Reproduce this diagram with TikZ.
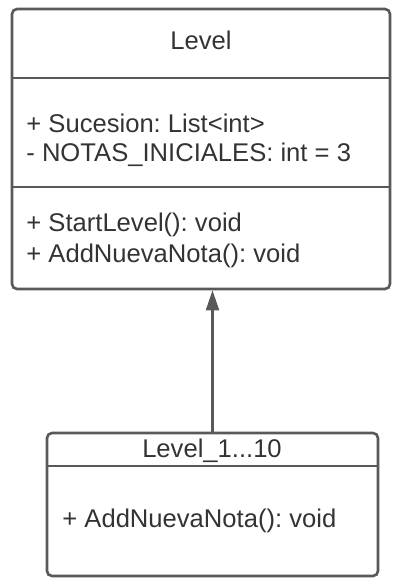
\documentclass[tikz,border=0pt]{standalone}
\usepackage{fontspec}
\setmainfont{Liberation Sans}
\usepackage{tikz}
\usetikzlibrary{arrows.meta,positioning}
\frenchspacing
\definecolor{umline}{RGB}{89,89,89}
\definecolor{umtext}{RGB}{51,51,51}
\tikzset{
  umbox/.style={draw=umline, line width=1.3pt, rounded corners=2.5pt,
    inner sep=0pt},
  umrule/.style={draw=umline, line width=1.3pt},
  umtitle/.style={font=\fontsize{12.8}{15}\selectfont, text=umtext,
    inner sep=0pt, anchor=base},
  umitem/.style={umtitle, anchor=base west},
  umarrow/.style={-{Triangle[length=10pt,width=6.5pt]}, line width=1.1pt,
    draw=umline}
}

\begin{document}
\begin{tikzpicture}[x=0.5pt,y=-0.5pt]
  \useasboundingbox (0,0) rectangle (404,579);
  % class Level
  \node[umbox, minimum width=189pt, minimum height=140pt] (lvl) at (201,149) {};
  \draw[umrule] (lvl.west |- 0,78) -- (lvl.east |- 0,78);
  \draw[umrule] (lvl.west |- 0,187) -- (lvl.east |- 0,187);
  \node[umtitle] (lvlT) at (201,49) {Level};
  \node[umitem] (lvlA) at (26,132) {+ Sucesion: List<int>};
  \node[umitem] (lvlB) at (26,161) {- NOTAS\_INICIALES: int = 3};
  \node[umitem] (lvlC) at (26,231) {+ StartLevel(): void};
  \node[umitem] (lvlD) at (26,262) {+ AddNuevaNota(): void};
  % class Level_1...10
  \node[umbox, minimum width=165.5pt, minimum height=71.5pt] (sub) at (212.5,504.5) {};
  \draw[umrule] (sub.west |- 0,466) -- (sub.east |- 0,466);
  \node[umtitle] (subT) at (212,457) {Level\_1...10};
  \node[umitem] (subA) at (62,527) {+ AddNuevaNota(): void};
  % herencia
  \draw[umarrow] (sub.north) -- (sub.north |- lvl.south);
\end{tikzpicture}
\end{document}
